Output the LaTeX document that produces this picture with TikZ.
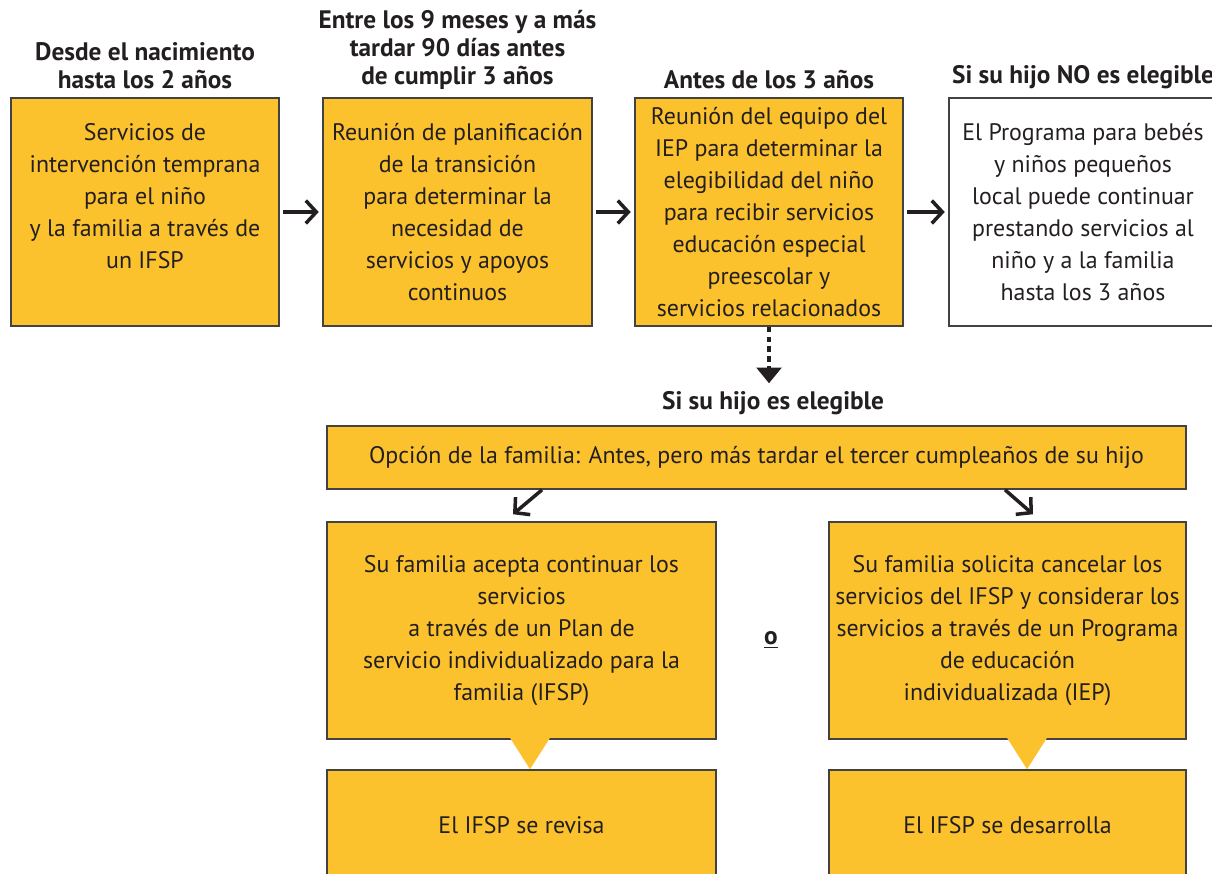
\documentclass[tikz,border=0pt]{standalone}
\usepackage{fontspec}
\setmainfont{PT Sans}
\usetikzlibrary{arrows.meta,positioning}
\definecolor{boxorange}{RGB}{252,194,45}
\definecolor{ink}{RGB}{35,31,32}

\begin{document}
\begin{tikzpicture}[x=0.02cm, y=-0.02cm,
        every node/.style={text=ink, font=\fontsize{13.6}{18.2}\selectfont},
        stagebox/.style={draw=ink!85, line width=0.9pt, fill=boxorange, align=center, inner sep=0pt},
        plainbox/.style={stagebox, fill=white},
        heading/.style={font=\bfseries\fontsize{14.4}{15.9}\selectfont, align=center},
        flow/.style={-{Straight Barb[length=6pt, width=13pt, line width=2pt]}, line width=2pt, draw=ink},
        maybe/.style={-{Triangle[length=9pt, width=14pt]}, line width=2.4pt, draw=ink, dash pattern=on 3.2pt off 2.4pt}]
        \useasboundingbox (0,0) rectangle (1212,874);

        % top row
        \node[stagebox, minimum width=5.36cm, minimum height=4.56cm] (early) at (145,212)
            {Servicios de\\intervención temprana\\para el niño\\y la familia a través de\\un IFSP\\\mbox{}};
        \node[stagebox, minimum width=5.38cm, minimum height=4.56cm] (plan) at (457.5,212)
            {Reunión de planificación\\de la transición\\para determinar la\\necesidad de\\servicios y apoyos\\continuos};
        \node[stagebox, minimum width=5.36cm, minimum height=4.56cm] (team) at (769,212)
            {Reunión del equipo del\\IEP para determinar la\\elegibilidad del niño\\para recibir servicios\\educación especial\\preescolar y\\servicios relacionados};
        \node[plainbox, minimum width=5.36cm, minimum height=4.56cm] (local) at (1083,212)
            {El Programa para bebés\\y niños pequeños\\local puede continuar\\prestando servicios al\\niño y a la familia\\hasta los 3 años};

        \node[heading, above=1pt of early] (earlyhead) {Desde el nacimiento\\hasta los 2 años};
        \node[heading, above=1pt of plan] (planhead) {Entre los 9 meses y a más\\tardar 90 días antes\\de cumplir 3 años};
        \node[heading, above=1pt of team] (teamhead) {Antes de los 3 años};
        \node[heading, above=1pt of local] (localhead) {Si su hijo NO es elegible};

        \draw[flow, shorten <=2pt, shorten >=2pt] (early) -- (plan);
        \draw[flow, shorten <=2pt, shorten >=2pt] (plan) -- (team);
        \draw[flow, shorten <=2pt, shorten >=2pt] (team) -- (local);

        % eligible branch
        \node[heading] (elig) at (773,403) {Si su hijo es elegible};
        \draw[maybe, shorten >=1pt] (team.south) -- (team.south |- elig.north);

        \node[stagebox, minimum width=17.18cm, minimum height=1.26cm] (choice) at (756.5,457.5)
            {Opción de la familia: Antes, pero más tardar el tercer cumpleaños de su hijo};

        \node[stagebox, minimum width=7.78cm, minimum height=4.34cm] (keep) at (521.5,630.5)
            {Su familia acepta continuar los\\servicios\\a través de un Plan de\\servicio individualizado para la\\familia (IFSP)};
        \node[stagebox, minimum width=7.14cm, minimum height=4.34cm] (ask) at (1007.5,630.5)
            {Su familia solicita cancelar los\\servicios del IFSP y considerar los\\servicios a través de un Programa\\de educación\\individualizada (IEP)};
        \node[font=\bfseries\fontsize{14.4}{15.9}\selectfont] (or) at (771,640) {\underline{o}};

        \draw[flow] ([xshift=-4.29cm]choice.south) -- ([xshift=-0.17cm, yshift=0.14cm]keep.north);
        \draw[flow] ([xshift=4.97cm]choice.south) -- ([xshift=0.51cm, yshift=0.14cm]ask.north);

        \node[stagebox, minimum width=7.78cm, minimum height=2.2cm] (revisa) at (521.5,825) {El IFSP se revisa};
        \node[stagebox, minimum width=7.14cm, minimum height=2.2cm] (desarrolla) at (1007.5,825) {El IFSP se desarrolla};

        \fill[boxorange] ([xshift=0.17cm]revisa.north) -- ++(-0.42cm,0.66cm) -- ++(0.84cm,0) -- cycle;
        \fill[boxorange] ([xshift=0.39cm]desarrolla.north) -- ++(-0.42cm,0.66cm) -- ++(0.84cm,0) -- cycle;
    \end{tikzpicture}
\end{document}
